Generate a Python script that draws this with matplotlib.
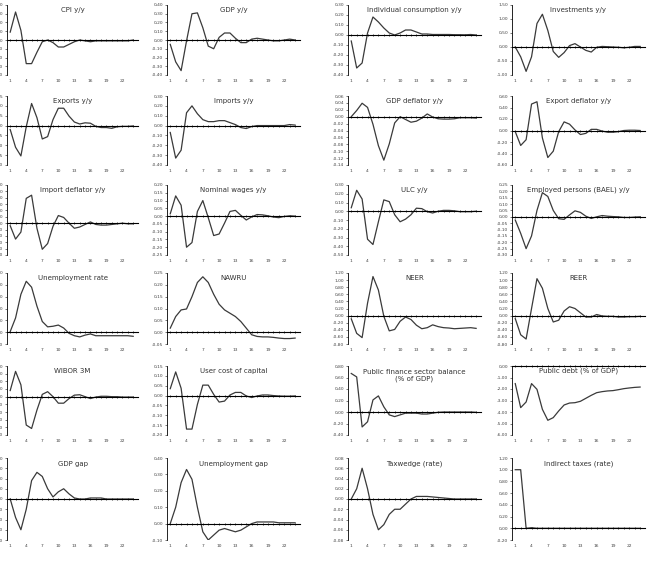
import matplotlib.pyplot as plt
from matplotlib.ticker import FuncFormatter

plt.rcParams['font.family'] = ['Liberation Sans Narrow', 'DejaVu Sans']

periods = list(range(1, 25))
xtick_labels = [1, 4, 7, 10, 13, 16, 19, 22]

# impulse responses, periods 1..24
cpi = [0.09, 0.32, 0.11, -0.27, -0.27, -0.14, -0.02, 0.00, -0.03, -0.08, -0.08, -0.05,
       -0.02, 0.00, -0.01, -0.02, -0.01, -0.01, -0.01, -0.01, -0.01, -0.01, -0.01, 0.00]
gdp = [-0.05, -0.25, -0.35, -0.01, 0.30, 0.31, 0.14, -0.07, -0.10, 0.03, 0.08, 0.08,
       0.02, -0.03, -0.03, 0.01, 0.02, 0.01, 0.00, -0.01, -0.01, 0.00, 0.01, 0.00]
consumption = [-0.06, -0.33, -0.28, 0.02, 0.18, 0.13, 0.07, 0.02, 0.00, 0.02, 0.05, 0.05,
               0.03, 0.01, 0.01, 0.005, 0.005, 0.005, 0.005, 0.003, 0.003, 0.002, 0.005, 0.00]
investments = [0.00, -0.35, -0.87, -0.35, 0.84, 1.17, 0.59, -0.16, -0.37, -0.20, 0.05, 0.12,
               0.00, -0.12, -0.18, -0.01, 0.02, 0.01, 0.00, -0.01, -0.03, -0.01, 0.02, 0.02]
exports = [-0.10, -0.55, -0.77, -0.03, 0.56, 0.20, -0.34, -0.28, 0.15, 0.44, 0.44, 0.24,
           0.09, 0.04, 0.07, 0.06, -0.02, -0.05, -0.05, -0.07, -0.03, -0.02, -0.02, -0.01]
imports = [-0.07, -0.33, -0.25, 0.13, 0.20, 0.12, 0.06, 0.04, 0.04, 0.05, 0.05, 0.03,
           0.01, -0.02, -0.03, -0.01, 0.00, 0.00, 0.00, 0.00, 0.00, 0.00, 0.01, 0.005]
gdp_deflator = [0.00, 0.018, 0.039, 0.027, -0.022, -0.084, -0.126, -0.079, -0.018, 0.00, -0.008, -0.016,
                -0.013, -0.004, 0.008, -0.001, -0.006, -0.007, -0.007, -0.006, -0.003, -0.003, -0.003, -0.004]
export_deflator = [-0.02, -0.26, -0.16, 0.46, 0.50, -0.13, -0.47, -0.36, -0.02, 0.15, 0.11, 0.01,
                   -0.07, -0.05, 0.02, 0.02, -0.01, -0.03, -0.03, -0.02, 0.00, 0.005, 0.005, 0.00]
import_deflator = [-0.04, -0.25, -0.14, 0.39, 0.44, -0.08, -0.41, -0.32, -0.05, 0.12, 0.09, 0.00,
                   -0.08, -0.06, -0.02, 0.02, -0.02, -0.03, -0.03, -0.02, -0.01, 0.00, -0.01, -0.01]
nominal_wages = [0.015, 0.13, 0.07, -0.20, -0.17, 0.03, 0.10, -0.01, -0.125, -0.115, -0.045, 0.03,
                 0.037, 0.005, -0.025, -0.005, 0.01, 0.008, 0.002, -0.006, -0.01, -0.002, 0.002, 0.00]
ulc = [0.04, 0.24, 0.14, -0.32, -0.38, -0.12, 0.13, 0.11, -0.04, -0.12, -0.09, -0.04,
       0.035, 0.03, -0.005, -0.02, 0.00, 0.01, 0.01, 0.005, -0.005, -0.005, -0.005, 0.00]
employed = [-0.025, -0.13, -0.25, -0.15, 0.05, 0.19, 0.16, 0.05, -0.015, -0.02, 0.015, 0.047,
            0.035, 0.005, -0.013, 0.00, 0.01, 0.005, 0.002, 0.00, -0.005, -0.005, -0.002, 0.00]
unemployment = [0.005, 0.12, 0.32, 0.43, 0.38, 0.22, 0.09, 0.045, 0.05, 0.06, 0.035, -0.01,
                -0.03, -0.04, -0.025, -0.015, -0.03, -0.03, -0.03, -0.03, -0.03, -0.03, -0.03, -0.035]
nawru = [0.017, 0.066, 0.094, 0.098, 0.15, 0.21, 0.234, 0.21, 0.16, 0.118, 0.094, 0.08,
         0.066, 0.045, 0.017, -0.011, -0.018, -0.02, -0.02, -0.022, -0.025, -0.027, -0.027, -0.025]
neer = [-0.09, -0.50, -0.62, 0.35, 1.10, 0.72, -0.02, -0.43, -0.39, -0.16, -0.04, -0.11,
        -0.27, -0.37, -0.34, -0.26, -0.31, -0.34, -0.35, -0.37, -0.36, -0.35, -0.34, -0.36]
reer = [-0.085, -0.54, -0.66, 0.20, 1.04, 0.77, 0.20, -0.18, -0.13, 0.13, 0.25, 0.20,
        0.08, -0.04, -0.04, 0.03, -0.01, -0.02, -0.02, -0.04, -0.04, -0.03, -0.03, -0.02]
wibor = [0.16, 0.66, 0.31, -0.74, -0.83, -0.35, 0.06, 0.13, 0.00, -0.17, -0.17, -0.05,
         0.04, 0.05, 0.00, -0.05, -0.01, 0.01, 0.01, 0.00, 0.00, -0.01, -0.01, -0.01]
user_cost = [0.035, 0.12, 0.037, -0.17, -0.17, -0.045, 0.053, 0.053, 0.006, -0.033, -0.028, 0.003,
             0.016, 0.016, -0.002, -0.01, -0.002, 0.003, 0.003, 0.00, -0.002, -0.003, -0.003, -0.002]
public_balance = [0.67, 0.61, -0.26, -0.17, 0.21, 0.28, 0.09, -0.05, -0.08, -0.05, -0.02, -0.02,
                  -0.02, -0.035, -0.035, -0.02, -0.005, 0.00, 0.00, 0.00, 0.00, 0.00, 0.00, -0.005]
public_debt = [-1.53, -3.62, -3.13, -1.53, -2.03, -3.77, -4.72, -4.49, -3.91, -3.39, -3.22, -3.19,
               -3.07, -2.81, -2.55, -2.32, -2.23, -2.17, -2.14, -2.06, -1.97, -1.91, -1.86, -1.83]
gdp_gap = [0.00, -0.18, -0.30, -0.10, 0.18, 0.26, 0.22, 0.10, 0.02, 0.07, 0.10, 0.05,
           0.01, 0.00, 0.00, 0.01, 0.01, 0.01, 0.00, 0.00, 0.00, 0.00, 0.00, 0.00]
unemployment_gap = [0.00, 0.10, 0.25, 0.33, 0.27, 0.10, -0.05, -0.10, -0.07, -0.04, -0.03, -0.04,
                    -0.05, -0.04, -0.02, 0.00, 0.01, 0.01, 0.01, 0.01, 0.005, 0.005, 0.005, 0.005]
taxwedge = [0.00, 0.02, 0.06, 0.02, -0.03, -0.06, -0.05, -0.03, -0.02, -0.02, -0.01, 0.00,
            0.005, 0.005, 0.005, 0.004, 0.003, 0.002, 0.001, 0.00, 0.00, 0.00, 0.00, 0.00]
indirect_taxes = [1.00, 1.00, 0.00, 0.01, 0.00, 0.00, 0.00, 0.00, 0.00, 0.00, 0.00, 0.00,
                  0.00, 0.00, 0.00, 0.00, 0.00, 0.00, 0.00, 0.00, 0.00, 0.00, 0.00, 0.00]

# title, values, ymin, ymax, tick step
panels = [
    ('CPI y/y', cpi, -0.40, 0.40, 0.10),
    ('GDP y/y', gdp, -0.40, 0.40, 0.10),
    ('Individual consumption y/y', consumption, -0.40, 0.30, 0.10),
    ('Investments y/y', investments, -1.00, 1.50, 0.50),
    ('Exports y/y', exports, -1.00, 0.75, 0.25),
    ('Imports y/y', imports, -0.40, 0.30, 0.10),
    ('GDP deflator y/y', gdp_deflator, -0.14, 0.06, 0.02),
    ('Export deflator y/y', export_deflator, -0.60, 0.60, 0.20),
    ('Import deflator y/y', import_deflator, -0.50, 0.60, 0.10),
    ('Nominal wages y/y', nominal_wages, -0.25, 0.20, 0.05),
    ('ULC y/y', ulc, -0.50, 0.30, 0.10),
    ('Employed persons (BAEL) y/y', employed, -0.30, 0.25, 0.05),
    ('Unemployment rate', unemployment, -0.10, 0.50, 0.10),
    ('NAWRU', nawru, -0.05, 0.25, 0.05),
    ('NEER', neer, -0.80, 1.20, 0.20),
    ('REER', reer, -0.80, 1.20, 0.20),
    ('WIBOR 3M', wibor, -1.00, 0.80, 0.20),
    ('User cost of capital', user_cost, -0.20, 0.15, 0.05),
    ('Public finance sector balance\n(% of GDP)', public_balance, -0.40, 0.80, 0.20),
    ('Public debt (% of GDP)', public_debt, -6.00, 0.00, 1.00),
    ('GDP gap', gdp_gap, -0.40, 0.40, 0.10),
    ('Unemployment gap', unemployment_gap, -0.10, 0.40, 0.10),
    ('Taxwedge (rate)', taxwedge, -0.08, 0.08, 0.02),
    ('Indirect taxes (rate)', indirect_taxes, -0.20, 1.20, 0.20),
]

W, H = 652, 562
col_px = [(7, 138), (167, 300), (348, 481), (512, 645)]
row_px = [(5, 75), (96, 165), (185, 255), (273, 344), (366, 435), (458, 540)]

fig = plt.figure(figsize=(W / 100, H / 100), dpi=100)
fmt = FuncFormatter(lambda v, p: ('%.2f' % v).replace('.', ',').replace('-0,00', '0,00'))

for i, (title, vals, ymin, ymax, step) in enumerate(panels):
    r, c = divmod(i, 4)
    x0, x1 = col_px[c]
    y0, y1 = row_px[r]
    ax = fig.add_axes([x0 / W, 1 - y1 / H, (x1 - x0) / W, (y1 - y0) / H])
    ax.plot(periods, vals, color='#3a3a3a', lw=0.9)
    ax.set_xlim(0.4, 24.9)
    ax.set_ylim(ymin, ymax)
    n = int(round((ymax - ymin) / step))
    ax.set_yticks([ymin + k * step for k in range(n + 1)])
    ax.yaxis.set_major_formatter(fmt)
    ax.tick_params(axis='y', labelsize=3.2, length=1.5, width=0.5, pad=1, colors='#444444')
    for s in ['top', 'right']:
        ax.spines[s].set_visible(False)
    ax.spines['left'].set_linewidth(0.6)
    # category axis crosses at zero with small tick marks
    ax.spines['bottom'].set_position(('data', 0))
    ax.spines['bottom'].set_linewidth(0.8)
    ax.set_xticks(periods)
    ax.tick_params(axis='x', length=1.5, width=0.5, direction='inout', labelbottom=False)
    sec = ax.secondary_xaxis(0)
    sec.set_xticks(xtick_labels)
    sec.spines['bottom'].set_visible(False)
    sec.tick_params(length=0, labelsize=3.2, pad=3, colors='#444444')
    ty = 0.93 if '\n' not in title else 0.86
    ax.text(0.5, ty, title, transform=ax.transAxes, ha='center', va='center',
            fontsize=5, color='#333333')

fig.savefig('out.png', dpi=100)
